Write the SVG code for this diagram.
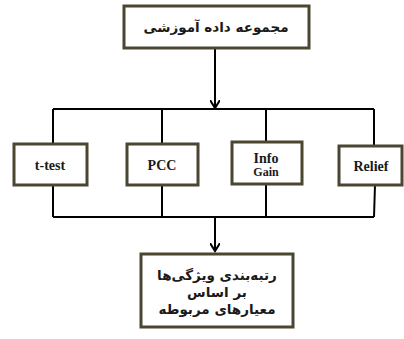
<svg xmlns="http://www.w3.org/2000/svg" width="404" height="339" viewBox="0 0 404 339">
<style>
.box{fill:#fff;stroke:#4a4632;stroke-width:3}
.ln{fill:none;stroke:#000;stroke-width:2}
.en{font-family:'Liberation Serif','DejaVu Serif',serif;font-weight:bold;font-size:14px;fill:#1a1a1a;text-anchor:middle}
.fa{font-family:'DejaVu Sans',sans-serif;font-weight:bold;font-size:13.5px;fill:#1a1a1a;text-anchor:middle}
</style>
<defs>
<marker id="ah" markerWidth="10" markerHeight="10" refX="8" refY="5" orient="auto" markerUnits="userSpaceOnUse">
<path d="M0,0 L8,5 L0,10" fill="none" stroke="#000" stroke-width="2"/>
</marker>
</defs>
<rect width="404" height="339" fill="#fff"/>
<g id="connectors">
<line class="ln" x1="215" y1="48" x2="215" y2="108" marker-end="url(#ah)"/>
<line class="ln" x1="53" y1="109" x2="374" y2="109"/>
<line class="ln" x1="53" y1="109" x2="53" y2="144"/>
<line class="ln" x1="162" y1="109" x2="162" y2="144"/>
<line class="ln" x1="266" y1="109" x2="266" y2="142"/>
<line class="ln" x1="374" y1="109" x2="374" y2="146"/>
<line class="ln" x1="53" y1="185" x2="53" y2="217"/>
<line class="ln" x1="162" y1="185" x2="162" y2="217"/>
<line class="ln" x1="266" y1="184" x2="266" y2="217"/>
<line class="ln" x1="375" y1="185" x2="374" y2="217"/>
<line class="ln" x1="53" y1="217" x2="374" y2="217"/>
<line class="ln" x1="215" y1="217" x2="215" y2="251" marker-end="url(#ah)"/>
</g>
<g id="top">
<rect class="box" x="124" y="6" width="185" height="42"/>
<text class="fa" x="216" y="32" direction="rtl">مجموعه داده آموزشی</text>
</g>
<g id="ttest">
<rect class="box" x="14" y="144" width="73" height="41"/>
<text class="en" x="50" y="170">t-test</text>
</g>
<g id="pcc">
<rect class="box" x="127" y="144" width="71" height="41"/>
<text class="en" x="162" y="170">PCC</text>
</g>
<g id="info">
<rect class="box" x="232" y="142" width="70" height="42"/>
<text class="en" x="266" y="163">Info</text>
<text class="en" x="266" y="176" style="font-size:12px">Gain</text>
</g>
<g id="relief">
<rect class="box" x="339" y="146" width="63" height="39"/>
<text class="en" x="371" y="171">Relief</text>
</g>
<g id="bottom">
<rect class="box" x="141" y="254" width="152" height="73"/>
<text class="fa" x="217" y="280" direction="rtl">رتبه‌بندی ویژگی‌ها</text>
<text class="fa" x="217" y="297" direction="rtl">بر اساس</text>
<text class="fa" x="217" y="314" direction="rtl">معیارهای مربوطه</text>
</g>
</svg>
